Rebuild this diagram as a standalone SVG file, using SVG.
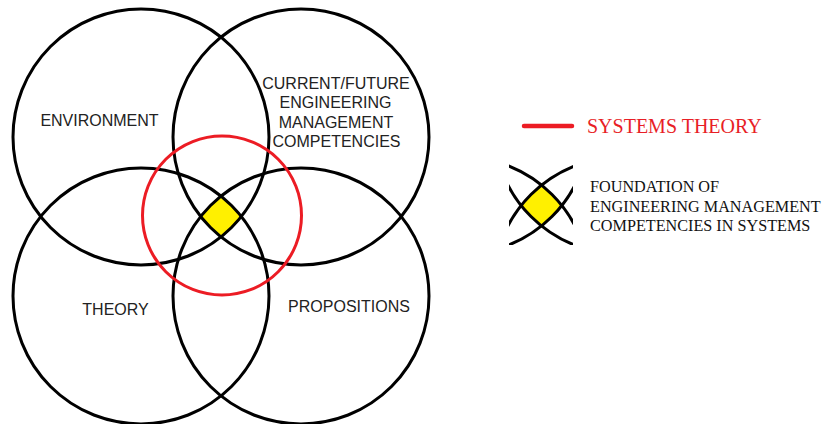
<svg xmlns="http://www.w3.org/2000/svg" xmlns:xlink="http://www.w3.org/1999/xlink" width="822" height="424" viewBox="0 0 822 424">
  <style>
    .ring { fill: none; stroke: #000; stroke-width: 3; }
    .red { fill: none; stroke: #ec1c24; stroke-width: 3; }
    .core { fill: #fff000; stroke: none; }
    .lbl { font-family: "Liberation Sans", Arial, sans-serif; font-size: 16px; fill: #222; text-anchor: middle; }
    .leg { font-family: "Liberation Serif", "Times New Roman", serif; font-size: 16.2px; fill: #111; }
    .legred { font-family: "Liberation Serif", "Times New Roman", serif; font-size: 20px; fill: #e81e26; }
  </style>
  <defs>
    <path id="diamond" d="M200.68,216.5 A128,128 0 0 1 221,196.08 A128,128 0 0 1 241.32,216.5 A128,128 0 0 1 221,236.92 A128,128 0 0 1 200.68,216.5 Z"/>
    <g id="quad">
      <circle cx="141" cy="137" r="128"/>
      <circle cx="301" cy="137" r="128"/>
      <circle cx="141" cy="296" r="128"/>
      <circle cx="301" cy="296" r="128"/>
    </g>
    <clipPath id="legclip">
      <rect x="509" y="164" width="64" height="81"/>
    </clipPath>
  </defs>

  <rect width="822" height="424" fill="#fff"/>

  <g id="foundation">
    <use xlink:href="#diamond" class="core"/>
  </g>

  <g id="environment">
    <circle class="ring" cx="141" cy="137" r="128"/>
    <text class="lbl" x="99.5" y="126">ENVIRONMENT</text>
  </g>

  <g id="competencies">
    <circle class="ring" cx="301" cy="137" r="128"/>
    <text class="lbl" x="336" y="89">CURRENT/FUTURE</text>
    <text class="lbl" x="335.5" y="108">ENGINEERING</text>
    <text class="lbl" x="336" y="127.5">MANAGEMENT</text>
    <text class="lbl" x="336.5" y="147">COMPETENCIES</text>
  </g>

  <g id="theory">
    <circle class="ring" cx="141" cy="296" r="128"/>
    <text class="lbl" x="115.5" y="315">THEORY</text>
  </g>

  <g id="propositions">
    <circle class="ring" cx="301" cy="296" r="128"/>
    <text class="lbl" x="349" y="312">PROPOSITIONS</text>
  </g>

  <g id="systems-theory">
    <circle class="red" cx="222" cy="215.5" r="79.5"/>
  </g>

  <g id="legend-systems-theory">
    <line x1="524" y1="126" x2="572" y2="126" stroke="#ec1c24" stroke-width="4.5" stroke-linecap="round"/>
    <text class="legred" x="587" y="132.5">SYSTEMS THEORY</text>
  </g>

  <g id="legend-foundation">
    <g clip-path="url(#legclip)">
      <g transform="translate(320.5,-11)">
        <use xlink:href="#diamond" class="core"/>
        <use xlink:href="#quad" class="ring"/>
      </g>
    </g>
    <text class="leg" x="590" y="192">FOUNDATION OF</text>
    <text class="leg" x="590" y="211.5">ENGINEERING MANAGEMENT</text>
    <text class="leg" x="590" y="231">COMPETENCIES IN SYSTEMS</text>
  </g>
</svg>
